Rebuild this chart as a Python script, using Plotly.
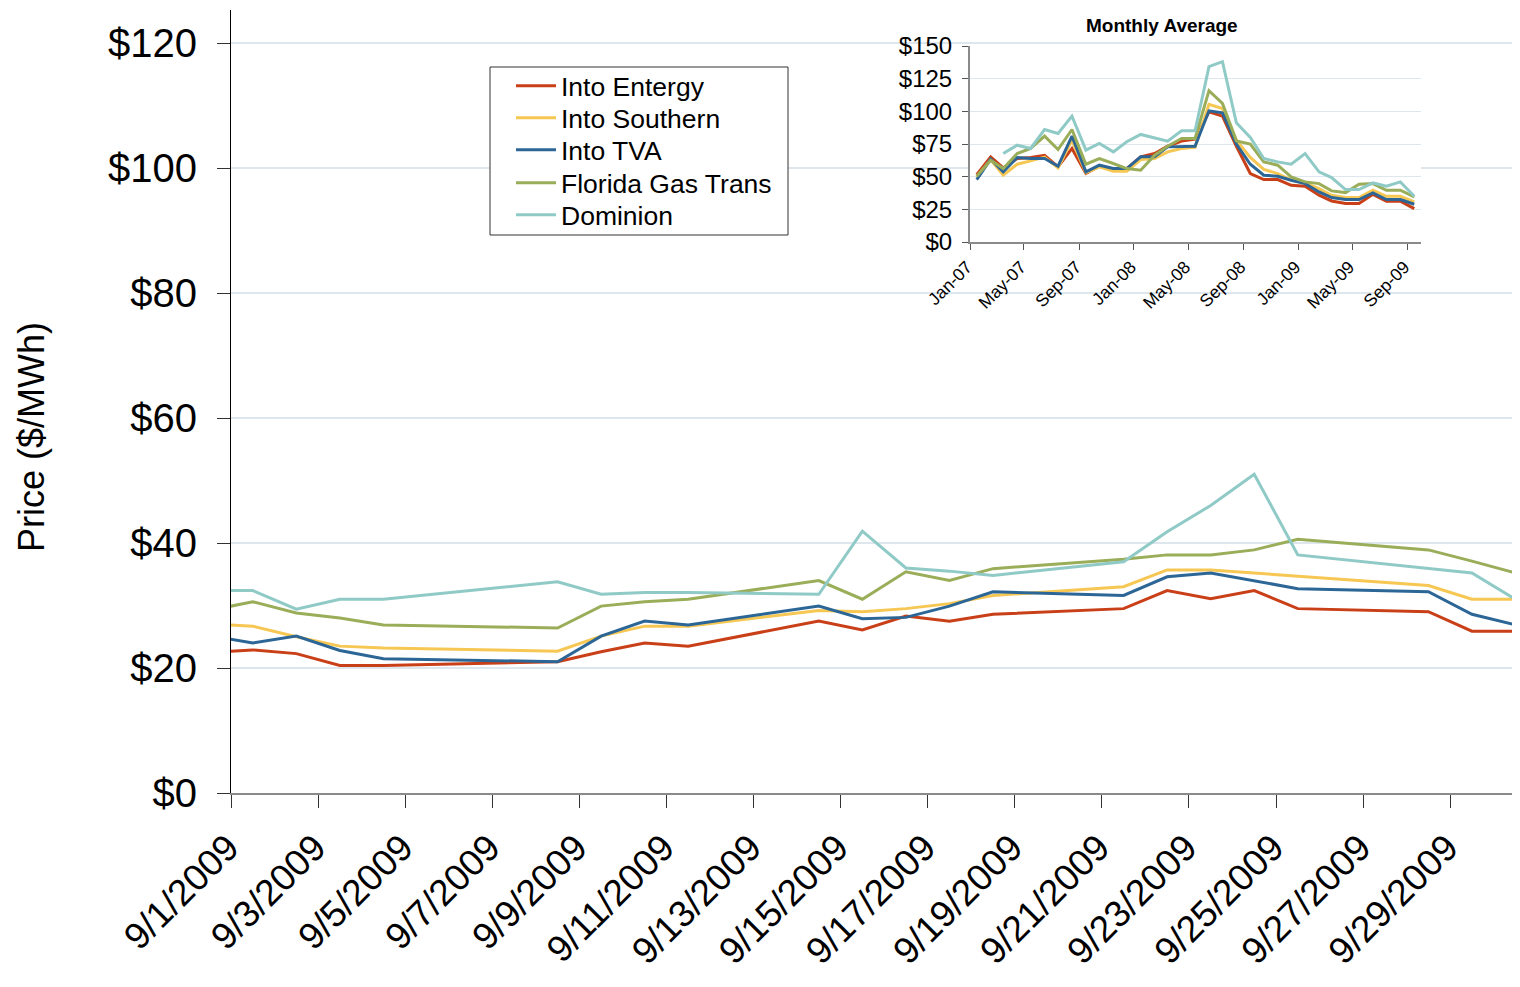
import plotly.graph_objects as go

FONT = "Liberation Sans, Arial, sans-serif"

# ---------------- daily data (Sept 2009, trading days; 8/31 clipped at left edge)
daily_dates = ["2009-08-31", "2009-09-01", "2009-09-02", "2009-09-03", "2009-09-04",
               "2009-09-08", "2009-09-09", "2009-09-10", "2009-09-11", "2009-09-14",
               "2009-09-15", "2009-09-16", "2009-09-17", "2009-09-18", "2009-09-21",
               "2009-09-22", "2009-09-23", "2009-09-24", "2009-09-25", "2009-09-28",
               "2009-09-29", "2009-09-30"]
entergy_daily = [22.5, 22.9, 22.3, 20.4, 20.4, 21.0, 22.6, 24.0, 23.5, 27.5, 26.1,
                 28.3, 27.5, 28.6, 29.5, 32.4, 31.1, 32.4, 29.5, 29.0, 25.9, 25.9]
southern_daily = [27.1, 26.7, 25.0, 23.5, 23.2, 22.7, 25.1, 26.7, 26.7, 29.2, 29.0,
                  29.5, 30.3, 31.6, 33.0, 35.7, 35.7, 35.2, 34.6, 33.2, 31.0, 31.0]
tva_daily = [25.2, 24.0, 25.1, 22.8, 21.5, 21.0, 25.1, 27.5, 26.9, 29.9, 27.9,
             28.1, 29.9, 32.2, 31.6, 34.6, 35.2, 34.0, 32.7, 32.2, 28.6, 26.9]
florida_daily = [29.2, 30.6, 28.8, 28.0, 26.9, 26.4, 29.9, 30.6, 31.0, 34.0, 31.0,
                 35.4, 34.0, 35.9, 37.4, 38.1, 38.1, 38.9, 40.6, 38.9, 37.1, 35.2]
dominion_daily = [32.4, 32.4, 29.4, 31.0, 31.0, 33.8, 31.8, 32.1, 32.1, 31.8, 41.9,
                  36.0, 35.5, 34.8, 37.0, 41.8, 46.0, 51.0, 38.1, 35.9, 35.2, 31.0]

main_tick_dates = ["2009-09-01", "2009-09-03", "2009-09-05", "2009-09-07", "2009-09-09",
                   "2009-09-11", "2009-09-13", "2009-09-15", "2009-09-17", "2009-09-19",
                   "2009-09-21", "2009-09-23", "2009-09-25", "2009-09-27", "2009-09-29"]
main_tick_text = ["9/1/2009", "9/3/2009", "9/5/2009", "9/7/2009", "9/9/2009",
                  "9/11/2009", "9/13/2009", "9/15/2009", "9/17/2009", "9/19/2009",
                  "9/21/2009", "9/23/2009", "9/25/2009", "9/27/2009", "9/29/2009"]

# ---------------- monthly averages (Jan-07 .. Sep-09)
month_years = [2007] * 12 + [2008] * 12 + [2009] * 9
month_nums = list(range(1, 13)) + list(range(1, 13)) + list(range(1, 10))
month_dates = [f"{y}-{m:02d}-16" for y, m in zip(month_years, month_nums)]

entergy_monthly = [51.6, 65.2, 56.7, 63.9, 64.7, 66.4, 57.5, 71.6, 52.4, 58.0, 55.5, 56.2,
                   65.2, 67.7, 73.3, 77.2, 78.8, 99.7, 96.3, 73.3, 52.4, 47.8, 47.8, 43.4,
                   42.7, 35.8, 31.4, 29.4, 29.4, 36.5, 31.2, 31.2, 25.6]
southern_monthly = [49.8, 63.1, 51.1, 59.5, 62.1, 65.0, 56.7, 78.0, 52.9, 57.5, 54.2, 54.2,
                    63.1, 63.9, 69.0, 71.6, 72.5, 105.3, 102.2, 78.0, 64.7, 55.5, 52.4, 47.3,
                    45.2, 40.9, 35.8, 34.0, 34.0, 39.6, 35.0, 35.0, 30.7]
tva_monthly = [47.8, 63.4, 53.7, 64.7, 63.9, 63.9, 58.0, 81.0, 53.7, 58.8, 56.2, 56.2,
               65.2, 65.2, 72.8, 72.8, 73.3, 100.4, 98.9, 74.9, 59.5, 51.1, 50.3, 47.3,
               44.7, 38.3, 34.0, 32.5, 32.5, 37.6, 32.5, 32.5, 28.9]
florida_monthly = [50.3, 62.6, 56.2, 67.7, 71.6, 81.0, 70.8, 86.1, 59.5, 63.9, 60.1, 56.2,
                   54.9, 66.4, 73.3, 79.2, 79.2, 115.8, 106.1, 77.4, 74.9, 61.3, 58.8, 49.8,
                   46.0, 44.7, 39.1, 37.8, 44.2, 44.7, 39.6, 39.6, 34.5]
dominion_monthly = [None, None, 67.7, 74.1, 71.6, 86.1, 83.1, 96.3, 70.3, 75.4, 69.0, 76.7,
                    82.3, 79.7, 77.2, 85.1, 85.1, 134.2, 138.0, 91.2, 80.0, 63.9, 61.3, 59.5,
                    67.7, 53.7, 49.3, 40.1, 40.1, 45.2, 42.7, 46.0, 35.0]

inset_tick_dates = ["2007-01-01", "2007-05-01", "2007-09-01", "2008-01-01", "2008-05-01",
                    "2008-09-01", "2009-01-01", "2009-05-01", "2009-09-01"]
inset_tick_text = ["Jan-07", "May-07", "Sep-07", "Jan-08", "May-08",
                   "Sep-08", "Jan-09", "May-09", "Sep-09"]

series_names = ["Into Entergy", "Into Southern", "Into TVA", "Florida Gas Trans", "Dominion"]
series_colors = ["#C93F17", "#F6C752", "#2C6696", "#9AAD59", "#8FCAC6"]
daily_series = [entergy_daily, southern_daily, tva_daily, florida_daily, dominion_daily]
monthly_series = [entergy_monthly, southern_monthly, tva_monthly, florida_monthly, dominion_monthly]

# ---------------- layout helpers (page has 8px body margin)
W, H = 1504, 971
OFF = 8
PL, PT, PB = 231, 10, 793          # plot area in page pixels
PR = W + OFF                        # right edge of plot on page
PW, PH = PR - PL, PB - PT


def px_x(x):
    return (x - PL) / PW


def px_y(y):
    return (PB - y) / PH


daily_x = [d + " 12:00" for d in daily_dates]
legend_ids = ["legend", "legend2", "legend3", "legend4", "legend5"]
legend_rows = [86, 118, 150, 183, 215]

fig = go.Figure()
for name, color, vals, lid in zip(series_names, series_colors, daily_series, legend_ids):
    fig.add_trace(go.Scatter(x=daily_x, y=vals, name=name, mode="lines",
                             line=dict(color=color, width=3), xaxis="x", yaxis="y",
                             legend=lid))
for name, color, vals in zip(series_names, series_colors, monthly_series):
    fig.add_trace(go.Scatter(x=month_dates, y=vals, name=name, mode="lines",
                             line=dict(color=color, width=3), showlegend=False,
                             xaxis="x2", yaxis="y2"))

legends = {}
for lid, ry in zip(legend_ids, legend_rows):
    legends[lid] = dict(x=px_x(511), y=px_y(ry), xanchor="left", yanchor="middle",
                        bgcolor="rgba(0,0,0,0)", borderwidth=0,
                        font=dict(size=26.5, family=FONT, color="black"),
                        itemwidth=40)

GRID = "#dde7ed"
fig.update_layout(
    width=W, height=H,
    margin=dict(l=PL - OFF, r=0, t=PT - OFF, b=H - (PB - OFF), autoexpand=False),
    paper_bgcolor="white", plot_bgcolor="white",
    font=dict(family=FONT, color="black"),
    showlegend=True,
    **legends,
    xaxis=dict(type="date", domain=[0, 1], anchor="y",
               range=["2009-09-01", "2009-09-30 10:05"],
               tickmode="array", tickvals=main_tick_dates, ticktext=main_tick_text,
               tickangle=-45, ticks="outside", ticklen=13, tickcolor="#333333",
               tickfont=dict(size=37, family=FONT, color="black"),
               ticklabelstandoff=3, ticklabelshift=-3,
               showline=True, linecolor="#8a8a8a", linewidth=2,
               showgrid=False, zeroline=False, automargin=False),
    yaxis=dict(domain=[0, 1], anchor="x", range=[0, 125.28], dtick=20, tick0=0,
               tickprefix="$", ticks="outside", ticklen=13, tickcolor="#333333",
               tickfont=dict(size=40, family=FONT, color="black"),
               ticklabelstandoff=12,
               showline=True, linecolor="black", linewidth=1,
               showgrid=True, gridcolor=GRID, gridwidth=1.5,
               zeroline=False, automargin=False),
    xaxis2=dict(type="date", domain=[px_x(970), px_x(1421)], anchor="y2",
                range=["2007-01-01", "2009-10-01"],
                tickmode="array", tickvals=inset_tick_dates, ticktext=inset_tick_text,
                tickangle=-45, ticks="outside", ticklen=6, tickcolor="#555555",
                tickfont=dict(size=17.5, family=FONT, color="black"),
                ticklabelshift=-3,
                showline=True, linecolor="#8a8a8a", linewidth=2,
                showgrid=False, zeroline=False, automargin=False),
    yaxis2=dict(domain=[px_y(242), px_y(46)], anchor="x2", range=[0, 150], dtick=25, tick0=0,
                tickprefix="$", ticks="outside", ticklen=6, tickcolor="#555555",
                tickfont=dict(size=24, family=FONT, color="black"),
                ticklabelstandoff=5,
                showline=True, linecolor="#8a8a8a", linewidth=2,
                showgrid=True, gridcolor=GRID, gridwidth=1,
                zeroline=False, automargin=False),
    shapes=[
        # white backdrop of the inset chart (hides the main gridlines behind it)
        dict(type="rect", xref="x2 domain", yref="y2 domain",
             x0=(900 - 970) / 451, x1=1.0, y0=(242 - 318) / 196, y1=(242 - 10) / 196,
             fillcolor="white", line=dict(width=0), layer="below"),
        # legend frame
        dict(type="rect", xref="paper", yref="paper",
             x0=px_x(490), x1=px_x(788), y0=px_y(235), y1=px_y(67),
             fillcolor="white", line=dict(color="#333333", width=1), layer="above"),
    ],
    annotations=[
        dict(text="Price ($/MWh)", textangle=-90, xref="paper", yref="paper",
             x=px_x(31), y=px_y(437), xanchor="center", yanchor="middle", showarrow=False,
             font=dict(size=36, family=FONT, color="black")),
        dict(text="<b>Monthly Average</b>", xref="paper", yref="paper",
             x=px_x(1162), y=px_y(26), xanchor="center", yanchor="middle", showarrow=False,
             font=dict(size=19, family=FONT, color="black")),
    ],
)

fig.write_html("out.html")
